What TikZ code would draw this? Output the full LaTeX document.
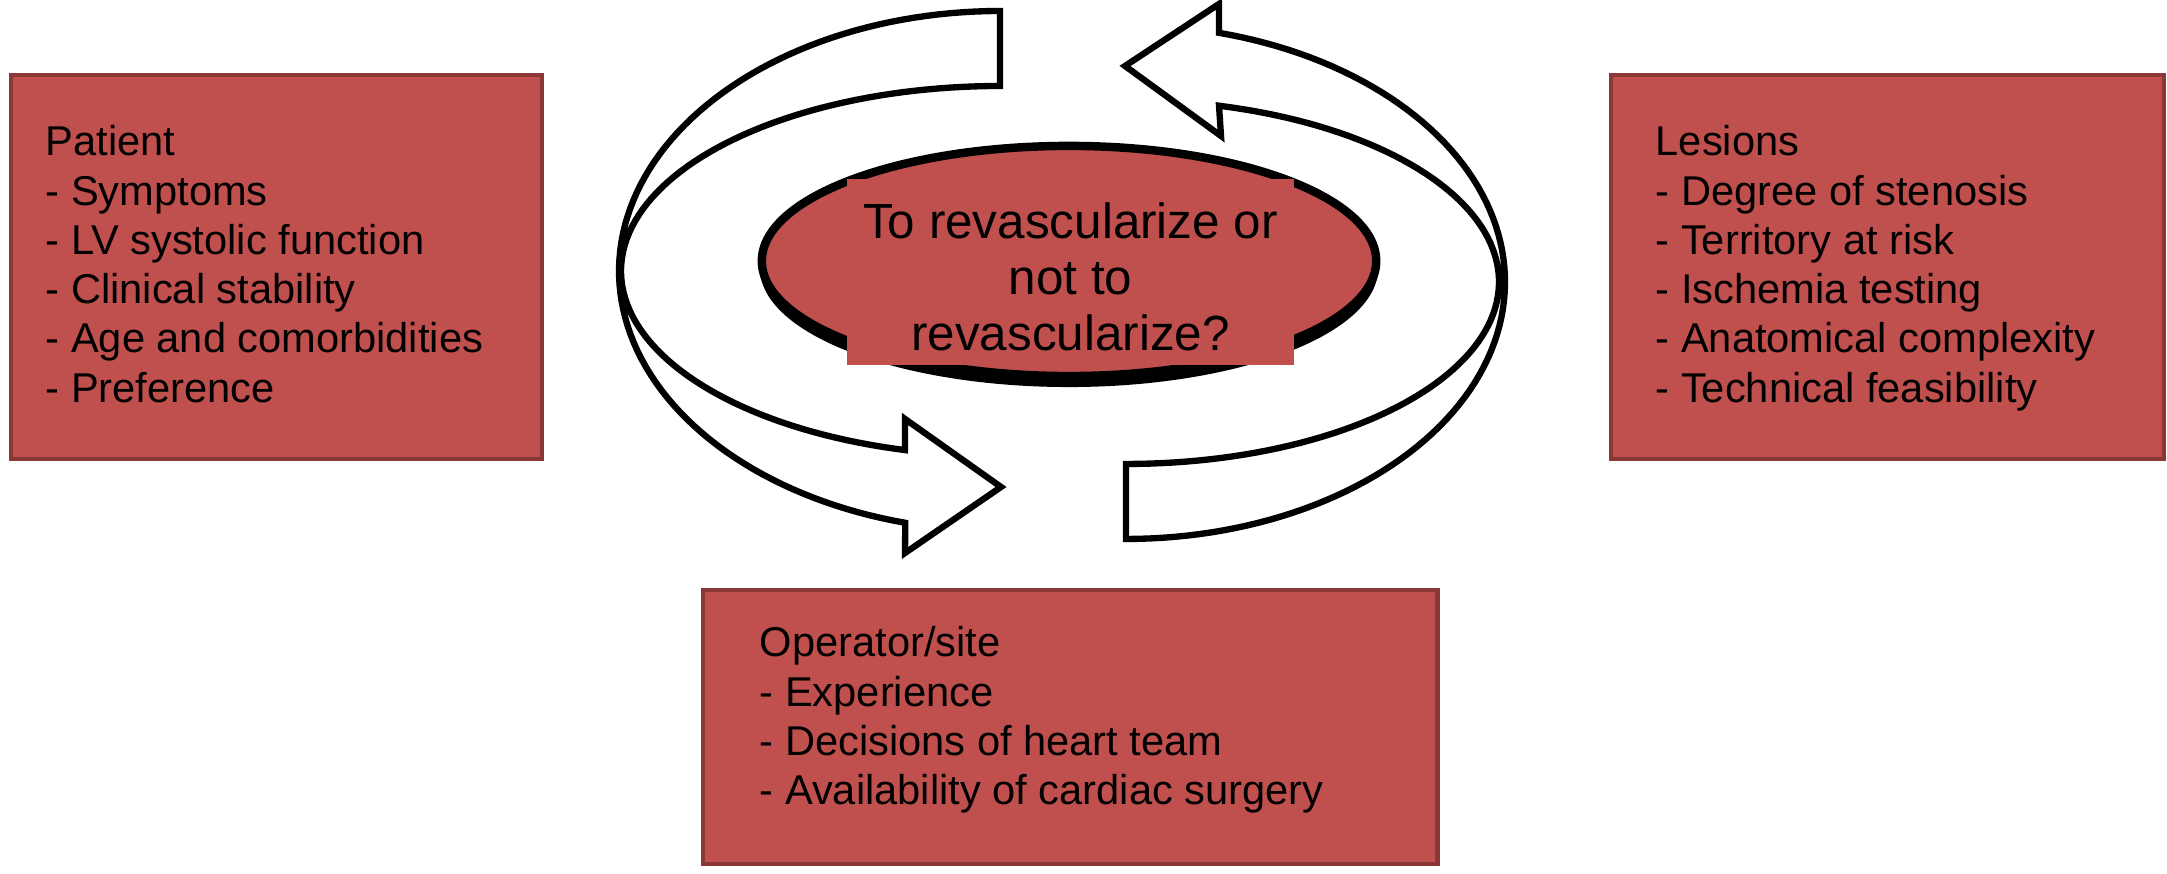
\documentclass[tikz,border=0pt]{standalone}
\usepackage{fontspec}
\setmainfont{Liberation Sans}
\usetikzlibrary{shapes.geometric}
\definecolor{boxred}{HTML}{C0504D}
\definecolor{boxedge}{HTML}{8A3735}
\begin{document}
\begin{tikzpicture}[x=0.01cm, y=0.01cm,
  factorbox/.style={draw=boxedge, line width=1.3pt, fill=boxred, inner sep=0pt},
  factortext/.style={anchor=north west, align=left, inner sep=0pt, font=\fontsize{11.84}{14}\selectfont},
  cyclearrow/.style={draw=black, fill=white, line width=1.8pt, line join=miter}]
\useasboundingbox (0,0) rectangle (2167,874);

% side boxes
\node[factorbox, minimum width=5.31cm, minimum height=3.84cm] (patient) at (276.5,607) {};
\node[factorbox, minimum width=5.53cm, minimum height=3.84cm] (lesions) at (1887.5,607) {};
\node[factorbox, minimum width=7.34cm, minimum height=2.74cm] (operator) at (1070,147) {};

\node[factortext] (patientT) at (45,749) {Patient\\- Symptoms\\- LV systolic function\\- Clinical stability\\- Age and comorbidities\\- Preference};
\node[factortext] (lesionsT) at (1655,749) {Lesions\\- Degree of stenosis\\- Territory at risk\\- Ischemia testing\\- Anatomical complexity\\- Technical feasibility};
\node[factortext] (operatorT) at (759,248) {Operator/site\\- Experience\\- Decisions of heart team\\- Availability of cardiac surgery};

% left circular arrow (head pointing right, at bottom)
\draw[cyclearrow] (1000,863)
  -- plot[domain=90:255.6, samples=90] ({1000+381*cos(\x)},{603+260*sin(\x)})
  -- (905,321) -- (1001,387) -- (905,455)
  -- plot[domain=255.48:90, samples=90] ({1000+379*cos(\x)},{603+185*sin(\x)})
  -- cycle;

% right circular arrow (head pointing left, at top)
\draw[cyclearrow] (1126,335)
  -- plot[domain=270:435.8, samples=90] ({1126+379*cos(\x)},{592+257*sin(\x)})
  -- (1219,870) -- (1125,808) -- (1221,738)
  -- plot[domain=435.56:270, samples=90] ({1126+373*cos(\x)},{592+182*sin(\x)})
  -- cycle;

% central ellipse with shadow
\node[ellipse, fill=black, minimum width=6.18cm, minimum height=2.38cm, inner sep=0pt] (shadow) at (1069,606) {};
\node[ellipse, draw=black, line width=2.4pt, fill=boxred, minimum width=6.14cm, minimum height=2.30cm, inner sep=0pt] (decision) at (1069,613) {};
\node[fill=boxred, minimum width=4.47cm, minimum height=1.86cm, inner sep=0pt] (question) at (1070.5,602) {};
\node[align=center, inner sep=0pt, font=\fontsize{14.05}{16}\selectfont] (questionT) at (1070.5,597) {To revascularize or\\not to\\revascularize?};
\end{tikzpicture}
\end{document}
